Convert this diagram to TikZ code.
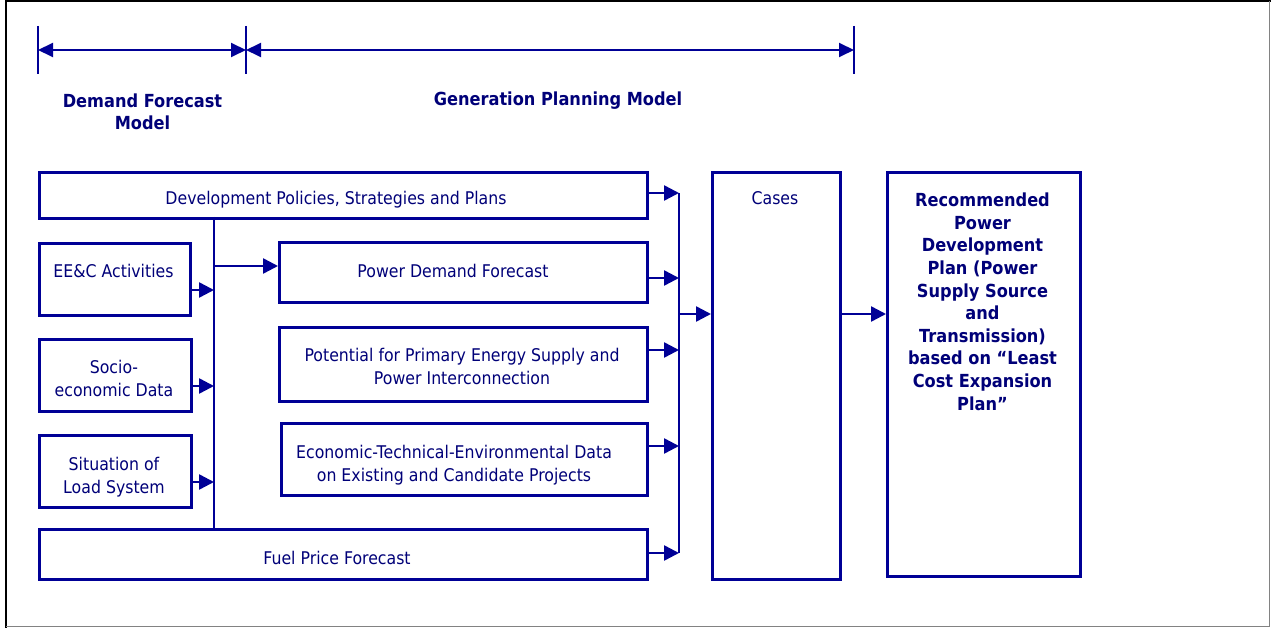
\documentclass[tikz,border=0pt]{standalone}
\usepackage{fontspec}
\setmainfont{DejaVu Sans}[FakeStretch=0.9]
\usetikzlibrary{arrows.meta}
\definecolor{ln}{RGB}{0,0,150}
\definecolor{tx}{RGB}{0,0,120}
\definecolor{frameR}{RGB}{130,130,130}
\begin{document}
\begin{tikzpicture}[x=1pt,y=-1pt,
  box/.style={draw=ln, line width=2.7pt, anchor=north west, inner sep=0pt},
  txt/.style={text=tx, font=\fontsize{17.5}{23}\selectfont, anchor=base, inner sep=0pt, align=center},
  btxt/.style={text=tx, font=\fontsize{18}{22.6}\selectfont\bfseries, anchor=base, inner sep=0pt, align=center},
  conn/.style={draw=ln, line width=2.5pt},
  arr/.style={conn, -{Triangle[length=15pt,width=15pt]}},
  dim/.style={draw=ln, line width=1.9pt},
  dimarr/.style={dim, {Triangle[length=15pt,width=14pt]}-{Triangle[length=15pt,width=14pt]}}
]
\useasboundingbox (0,0) rectangle (1271,628);
% frame
\draw[black, line width=2pt] (5.5,628) -- (5.5,1.5) -- (1271,1.5);
\draw[frameR, line width=1.6pt] (1269.5,1.5) -- (1269.5,626.5) -- (5.5,626.5);

% dimension lines
\coordinate (d1) at (38,50);
\coordinate (d2) at (246,50);
\coordinate (d3) at (854,50);
\draw[dim] (38,26) -- (38,74);
\draw[dim] (246,26) -- (246,74);
\draw[dim] (854,26) -- (854,74);
\draw[dimarr] (d1) -- (d2);
\draw[dimarr] (d2) -- (d3);
% multi-line nodes: anchor=base is the baseline of the last line
\node[btxt] (dfm) at (142.5,130) {Demand Forecast\\Model};
\node[btxt] (gpm) at (558,106) {Generation Planning Model};

% boxes
\node[box, minimum width=608pt, minimum height=46pt] (dev) at (38,171) {};
\node[box, minimum width=151pt, minimum height=72pt] (eec) at (38,242) {};
\node[box, minimum width=152pt, minimum height=72pt] (soc) at (38,338) {};
\node[box, minimum width=152pt, minimum height=72pt] (sit) at (38,434) {};
\node[box, minimum width=368pt, minimum height=60pt] (pdf) at (278,241) {};
\node[box, minimum width=368pt, minimum height=74pt] (pot) at (278,326) {};
\node[box, minimum width=366pt, minimum height=72pt] (eco) at (280,422) {};
\node[box, minimum width=608pt, minimum height=50pt] (fuel) at (38,528) {};
\node[box, minimum width=128pt, minimum height=407pt] (cases) at (711,171) {};
\node[box, minimum width=193pt, minimum height=404pt] (rec) at (886,171) {};

% texts
\node[txt] (tdev) at (336,205) {Development Policies, Strategies and Plans};
\node[txt] (teec) at (113.5,277) {EE\&C Activities};
\node[txt] (tsoc) at (114,396.5) {Socio-\\economic Data};
\node[txt] (tsit) at (114,493) {Situation of\\Load System};
\node[txt] (tpdf) at (453,277) {Power Demand Forecast};
\node[txt] (tpot) at (462,384.5) {Potential for Primary Energy Supply and\\Power Interconnection};
\node[txt] (teco) at (454,481) {Economic-Technical-Environmental Data\\on Existing and Candidate Projects};
\node[txt] (tfuel) at (337,564) {Fuel Price Forecast};
\node[txt] (tcases) at (775,205) {Cases};
\node[btxt] (trec) at (982.5,410) {Recommended\\Power\\Development\\Plan (Power\\Supply Source\\and\\Transmission)\\based on “Least\\Cost Expansion\\Plan”};

% left bus
\coordinate (lbTop) at (214,217);
\coordinate (lbBot) at (214,530);
\coordinate (lb1) at (214,290);
\coordinate (lb2) at (214,386);
\coordinate (lb3) at (214,482);
\coordinate (lb0) at (214,266);
\draw[conn] (lbTop) -- (lbBot);
\draw[arr] (eec.east |- lb1) -- (lb1);
\draw[arr] (soc.east |- lb2) -- (lb2);
\draw[arr] (sit.east |- lb3) -- (lb3);
\draw[arr] (lb0) -- (pdf.west |- lb0);

% right bus
\coordinate (rb1) at (679,193);
\coordinate (rb2) at (679,278);
\coordinate (rb3) at (679,350);
\coordinate (rb4) at (679,446);
\coordinate (rb5) at (679,553);
\coordinate (rbm) at (679,314);
\draw[conn] (rb1) -- (rb5);
\draw[arr] (dev.east |- rb1) -- (rb1);
\draw[arr] (pdf.east |- rb2) -- (rb2);
\draw[arr] (pot.east |- rb3) -- (rb3);
\draw[arr] (eco.east |- rb4) -- (rb4);
\draw[arr] (fuel.east |- rb5) -- (rb5);
\draw[arr] (rbm) -- (cases.west |- rbm);
\draw[arr] (cases.east |- rbm) -- (rec.west |- rbm);
\end{tikzpicture}
\end{document}
